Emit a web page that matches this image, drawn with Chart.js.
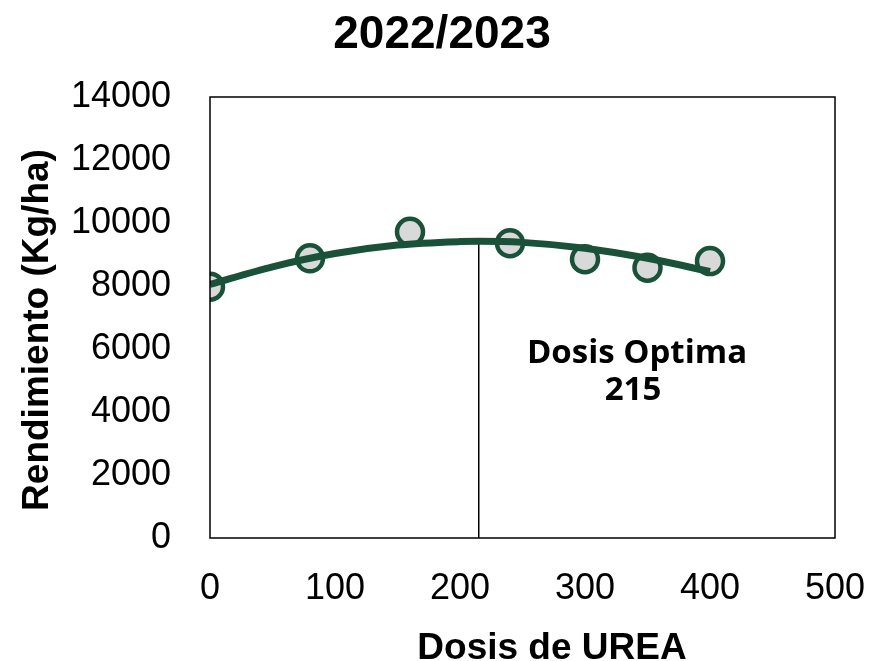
<!DOCTYPE html>
<html>
<head>
<meta charset="utf-8">
<script src="https://cdn.jsdelivr.net/npm/chart.js@4"></script>
<style>
html,body{margin:0;padding:0;background:#fff;}
#wrap{position:relative;width:870px;height:661px;}
</style>
</head>
<body>
<div id="wrap"><canvas id="c" width="870" height="661"></canvas></div>
<script>
// ---- data ----
const chartTitle = "2022/2023";
const xTitle = "Dosis de UREA";
const yTitle = "Rendimiento (Kg/ha)";
const doses = [0, 80, 160, 240, 300, 350, 400];
const yields = [7980, 8880, 9720, 9360, 8850, 8580, 8790];
const trendDoses = [0, 50, 100, 150, 200, 215, 250, 300, 350, 400];
const trendYields = [8050, 8610, 9030, 9300, 9410, 9420, 9385, 9200, 8880, 8460];
const optimalDose = 215;
const optimalYield = 9400;
const annotationLines = ["Dosis Optima", "215"];
const xTicks = [0, 100, 200, 300, 400, 500];
const yTicks = [0, 2000, 4000, 6000, 8000, 10000, 12000, 14000];

const green = "#1a5239";
const sans = "'Liberation Sans', Arial, sans-serif";

const textPlugin = {
  id: "texts",
  afterDraw(chart) {
    const ctx = chart.ctx;
    const a = chart.chartArea;
    ctx.save();
    // plot box
    ctx.strokeStyle = "#000";
    ctx.lineWidth = 1.5;
    ctx.strokeRect(a.left, a.top, a.right - a.left, a.bottom - a.top);
    ctx.fillStyle = "#000";
    // title
    ctx.font = "bold 46px " + sans;
    ctx.textAlign = "center";
    ctx.textBaseline = "alphabetic";
    ctx.fillText(chartTitle, 442, 48);
    // x title
    ctx.font = "bold 37px " + sans;
    ctx.fillText(xTitle, 552, 659);
    // y title
    ctx.save();
    ctx.translate(48, 330);
    ctx.rotate(-Math.PI / 2);
    ctx.font = "bold 37px " + sans;
    ctx.fillText(yTitle, 0, 0);
    ctx.restore();
    // annotation
    let size = 28;
    ctx.font = "bold " + size + "px 'Open Sans', sans-serif";
    const w = ctx.measureText(annotationLines[0]).width;
    size = Math.round(size * 220 / w * 10) / 10;
    ctx.font = "bold " + size + "px 'Open Sans', sans-serif";
    ctx.textBaseline = "middle";
    ctx.fillText(annotationLines[0], 637, 354);
    ctx.fillText(annotationLines[1], 633, 391);
    ctx.restore();
  }
};

new Chart(document.getElementById("c"), {
  type: "scatter",
  data: {
    datasets: [
      {
        label: "trend",
        data: trendDoses.map((d, i) => ({ x: d, y: trendYields[i] })),
        showLine: true,
        borderColor: green,
        borderWidth: 7,
        pointRadius: 0,
        cubicInterpolationMode: "monotone",
        order: 0
      },
      {
        label: "obs",
        data: doses.map((d, i) => ({ x: d, y: yields[i] })),
        backgroundColor: "#d9d9d9",
        borderColor: green,
        borderWidth: 4.5,
        pointRadius: 13,
        order: 1
      },
      {
        label: "optimo",
        data: [{ x: optimalDose, y: 0 }, { x: optimalDose, y: optimalYield }],
        showLine: true,
        borderColor: "#000",
        borderWidth: 1.5,
        pointRadius: 0,
        order: 2
      }
    ]
  },
  options: {
    responsive: false,
    animation: false,
    devicePixelRatio: 1,
    layout: { padding: { top: 97, right: 35, bottom: 0, left: 0 } },
    plugins: { legend: { display: false }, title: { display: false }, tooltip: { enabled: false } },
    scales: {
      x: {
        type: "linear",
        min: 0, max: 500,
        afterBuildTicks(s) { s.ticks = xTicks.map(v => ({ value: v })); },
        ticks: { font: { size: 36, family: sans }, color: "#000", padding: 21, maxRotation: 0,
                 callback: v => String(v) },
        grid: { display: false },
        border: { display: false },
        afterFit(s) { s.height = 123; s.paddingLeft = 0; s.paddingRight = 0; }
      },
      y: {
        min: 0, max: 14000,
        afterBuildTicks(s) { s.ticks = yTicks.map(v => ({ value: v })); },
        ticks: { font: { size: 36, family: sans }, color: "#000", padding: 31,
                 callback: v => String(v) },
        grid: { display: false },
        border: { display: false },
        afterFit(s) { s.width = 210; s.paddingTop = 0; s.paddingBottom = 0; }
      }
    }
  },
  plugins: [textPlugin]
});
</script>
</body>
</html>
